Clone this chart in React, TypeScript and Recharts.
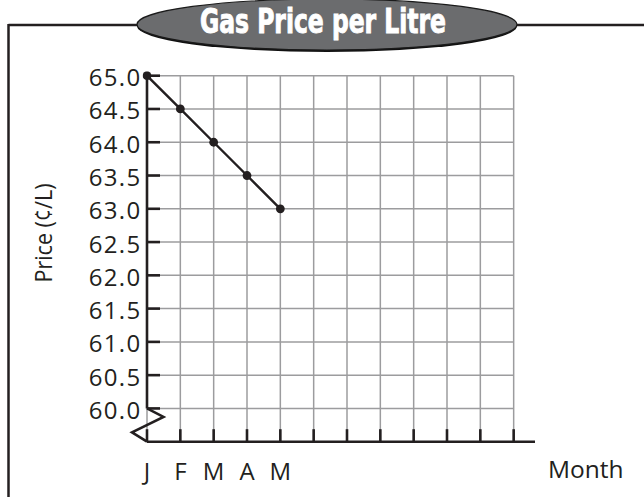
import React from 'react';
import { LineChart, Line, XAxis, YAxis, ReferenceLine } from 'recharts';

const monthIndex = [0, 1, 2, 3, 4, 5, 6, 7, 8, 9, 10, 11];
const monthLabels = ['J', 'F', 'M', 'A', 'M', '', '', '', '', '', '', ''];
const prices = [65.0, 64.5, 64.0, 63.5, 63.0];
const priceTicks = [60.0, 60.5, 61.0, 61.5, 62.0, 62.5, 63.0, 63.5, 64.0, 64.5, 65.0];

const title = 'Gas Price per Litre';
const yTitle = 'Price (¢/L)';
const xTitle = 'Month';

const data = prices.map((p, i) => ({ m: monthIndex[i], price: p }));

const INK = '#231f20';
const GRID = '#9c9c9e';
const FONT = "'Open Sans', 'Lato', sans-serif";

const XTick = (props: any) => {
  const { x, y, payload } = props;
  const label = monthLabels[payload.value] ?? '';
  return (
    <g>
      <line x1={x} y1={y} x2={x} y2={y - 12.5} stroke={INK} strokeWidth={2.6} />
      <text x={x} y={y + 38} textAnchor="middle" fontFamily={FONT} fontSize={24} fill={INK}>
        {label}
      </text>
    </g>
  );
};

const YTick = (props: any) => {
  const { x, y, payload } = props;
  const v = Number(payload.value);
  return (
    <g>
      <line x1={x} y1={y} x2={x + 13} y2={y} stroke={INK} strokeWidth={2.6} />
      <text
        x={x - 5.5}
        y={y + 10.5}
        textAnchor="end"
        fontFamily={FONT}
        fontSize={24}
        letterSpacing={1.3}
        fill={INK}
      >
        {v.toFixed(1)}
      </text>
      {v === priceTicks[0] && (
        <path
          d={`M${x},${y} L${x + 16.5},${y + 8.5} L${x - 15},${y + 24} L${x},${y + 33.3}`}
          fill="none"
          stroke={INK}
          strokeWidth={2.6}
          strokeLinejoin="miter"
        />
      )}
    </g>
  );
};

export default function App() {
  const firstM = monthIndex[0];
  const lastM = monthIndex[monthIndex.length - 1];
  const minP = priceTicks[0];
  const maxP = priceTicks[priceTicks.length - 1];
  return (
    <div style={{ position: 'absolute', left: 0, top: 0, width: 644, height: 497, background: '#fff' }}>
      <div style={{ position: 'absolute', left: 0, top: 0 }}>
        <LineChart
          width={644}
          height={497}
          data={data}
          margin={{ top: 75.7, right: 109, left: 87, bottom: 15.3 }}
        >
          <XAxis
            dataKey="m"
            type="number"
            domain={[0, 11.64]}
            allowDataOverflow
            ticks={monthIndex}
            interval={0}
            height={40}
            tickSize={0}
            tickMargin={0}
            tickLine={false}
            axisLine={{ stroke: INK, strokeWidth: 2.6 }}
            tick={<XTick />}
          />
          <YAxis
            type="number"
            domain={[59.5, 65]}
            allowDataOverflow
            ticks={priceTicks}
            interval={0}
            width={60}
            tickSize={0}
            tickMargin={0}
            tickLine={false}
            axisLine={false}
            tick={<YTick />}
          />
          {monthIndex.map((m) => (
            <ReferenceLine
              key={'v' + m}
              segment={[
                { x: m, y: 59.5 },
                { x: m, y: maxP },
              ]}
              stroke={GRID}
              strokeWidth={1.5}
            />
          ))}
          {priceTicks.map((t) => (
            <ReferenceLine
              key={'h' + t}
              segment={[
                { x: firstM, y: t },
                { x: lastM, y: t },
              ]}
              stroke={GRID}
              strokeWidth={1.5}
            />
          ))}
          <ReferenceLine
            segment={[
              { x: firstM, y: minP },
              { x: firstM, y: maxP },
            ]}
            stroke={INK}
            strokeWidth={2.6}
          />
          <Line
            type="linear"
            dataKey="price"
            stroke={INK}
            strokeWidth={2.4}
            dot={{ r: 4.4, fill: INK, stroke: INK, strokeWidth: 0, clipDot: false } as any}
            activeDot={false}
            isAnimationActive={false}
          />
        </LineChart>
      </div>
      <svg
        width={644}
        height={497}
        style={{ position: 'absolute', left: 0, top: 0, pointerEvents: 'none' }}
      >
        <line x1={8.5} y1={25} x2={644} y2={25} stroke={INK} strokeWidth={2.5} />
        <line x1={8.5} y1={24} x2={8.5} y2={497} stroke={INK} strokeWidth={2.5} />
        <ellipse cx={327} cy={26} rx={190} ry={26} fill="#111" />
        <ellipse cx={327} cy={24.5} rx={190} ry={25.5} fill="#6b6c6e" stroke="#1a1a1a" strokeWidth={1.2} />
        <text
          x={200}
          y={33}
          fontFamily="'Liberation Sans Narrow', 'DejaVu Sans Condensed', 'Roboto', sans-serif"
          fontWeight={700}
          fontSize={33}
          textLength={246}
          lengthAdjust="spacingAndGlyphs"
          fill="#ffffff"
          stroke="#ffffff"
          strokeWidth={0.9}
        >
          {title}
        </text>
        <text
          x={52}
          y={233}
          transform="rotate(-90, 52, 233)"
          textAnchor="middle"
          fontFamily={FONT}
          fontSize={24}
          textLength={99}
          lengthAdjust="spacingAndGlyphs"
          fill={INK}
        >
          {yTitle}
        </text>
        <text x={548} y={478} fontFamily={FONT} fontSize={24.5} fill={INK}>
          {xTitle}
        </text>
      </svg>
    </div>
  );
}
